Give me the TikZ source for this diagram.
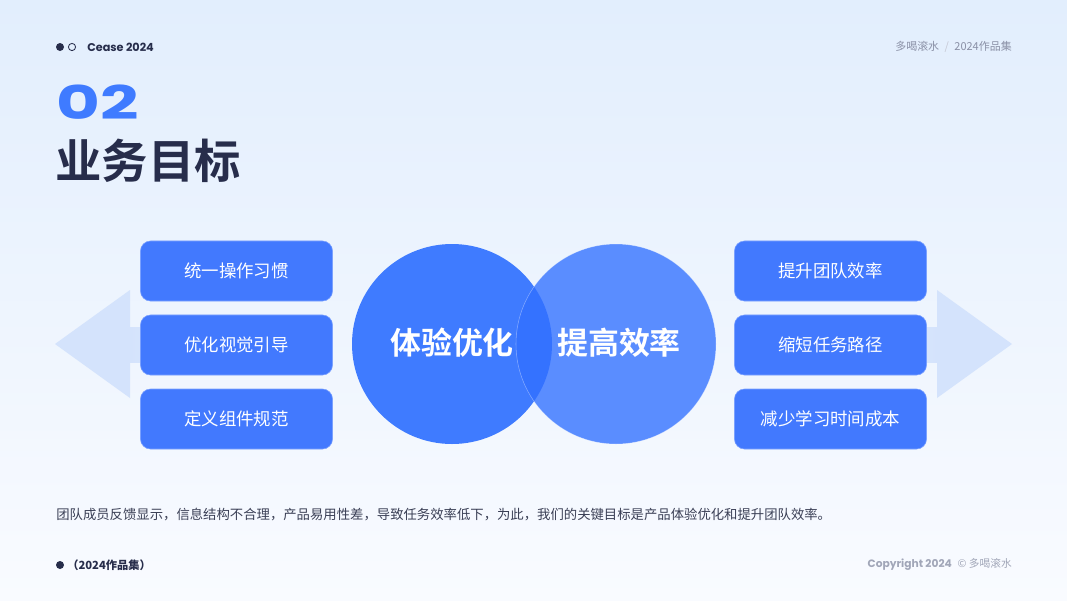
\documentclass[tikz,border=0pt]{standalone}
\usepackage{fontspec}
\setmainfont{Poppins}
\newfontfamily\cjk{Noto Sans CJK SC}
\newfontfamily\cjkheavy{Noto Sans CJK SC Black}
\definecolor{bgtop}{HTML}{E2EEFD}
\definecolor{bgbot}{HTML}{F9FBFF}
\definecolor{navy}{HTML}{272D4B}
\definecolor{mainblue}{HTML}{3F7BFF}
\definecolor{boxblue}{HTML}{4279FE}
\definecolor{lightblue}{HTML}{5A8DFF}
\definecolor{deepblue}{HTML}{3472FF}
\definecolor{faint}{HTML}{D4E3FC}
\definecolor{greytext}{HTML}{8A90A6}
\definecolor{bodytext}{HTML}{3A3F55}
\begin{document}
\begin{tikzpicture}[x=0.025cm, y=-0.025cm,
  goalbox/.style={fill=boxblue, draw=boxblue!70!white, rounded corners=0.25cm, minimum width=4.8cm, minimum height=1.5cm, text=white, font=\cjk\fontsize{12.4}{14}\selectfont},
  circtext/.style={text=white, font=\cjkheavy\fontsize{22}{24}\selectfont},
  smalltext/.style={font=\fontsize{8}{10}\selectfont, inner sep=0pt}]
\useasboundingbox (0,0) rectangle (1067,600);
\fill[top color=bgtop, bottom color=bgbot] (0,0) rectangle (1067,600);

% header
\fill[navy] (60,47) circle (4);
\draw[navy, line width=0.6pt] (72,47) circle (3.6);
\node[smalltext, anchor=west, text=navy, font=\bfseries\fontsize{8}{10}\selectfont] (brand) at (87,47) {Cease 2024};
\node[smalltext, anchor=east, text=greytext, font=\cjk\fontsize{7.8}{10}\selectfont] (crumb) at (1012,47) {多喝滚水\enspace{\color{greytext!50}/}\enspace 2024作品集};
\node[anchor=west, inner sep=0pt, text=mainblue, font=\bfseries\fontsize{33}{36}\selectfont, xscale=1.45] (num) at (56,102) {02};
\node[anchor=west, inner sep=0pt, text=navy, font=\cjkheavy\bfseries\fontsize{33}{36}\selectfont] (title) at (55,161) {业务目标};

% background arrows
\fill[faint] (55,344) -- (130,290) -- (130,398) -- cycle;
\fill[left color=faint, right color=bgbot!70!bgtop] (130,327) rectangle (300,362);
\fill[faint] (1012,344) -- (937,290) -- (937,398) -- cycle;
\fill[right color=faint, left color=bgbot!70!bgtop] (767,327) rectangle (937,362);

% goal boxes
\node[goalbox] (l1) at (236.5,271) {统一操作习惯};
\node[goalbox] (l2) at (236.5,345) {优化视觉引导};
\node[goalbox] (l3) at (236.5,419) {定义组件规范};
\node[goalbox] (r1) at (830.5,271) {提升团队效率};
\node[goalbox] (r2) at (830.5,345) {缩短任务路径};
\node[goalbox] (r3) at (830.5,419) {减少学习时间成本};

% two circles
\fill[mainblue] (452,344) circle (100);
\fill[lightblue] (616,344) circle (100);
\begin{scope}
\clip (452,344) circle (100);
\fill[deepblue] (616,344) circle (100);
\end{scope}
\draw[white, opacity=0.35, line width=0.4pt] (616,344) circle (100);
\node[circtext] (ux) at (452,343) {\bfseries 体验优化};
\node[circtext] (eff) at (619,343) {\bfseries 提高效率};

% footer
\node[anchor=west, inner sep=0pt, text=bodytext, font=\cjk\fontsize{9.5}{12}\selectfont] (desc) at (56,515) {团队成员反馈显示，信息结构不合理，产品易用性差，导致任务效率低下，为此，我们的关键目标是产品体验优化和提升团队效率。};
\fill[navy] (60,565) circle (4);
\node[smalltext, anchor=west, text=navy, font=\cjk\bfseries\fontsize{8}{10}\selectfont] (book) at (67,565) {（2024作品集）};
\node[smalltext, anchor=east, text=greytext!80!white, font=\fontsize{7.6}{10}\selectfont] (copy) at (1012,564) {{\bfseries Copyright 2024}\; {\cjk © 多喝滚水}};
\end{tikzpicture}
\end{document}
